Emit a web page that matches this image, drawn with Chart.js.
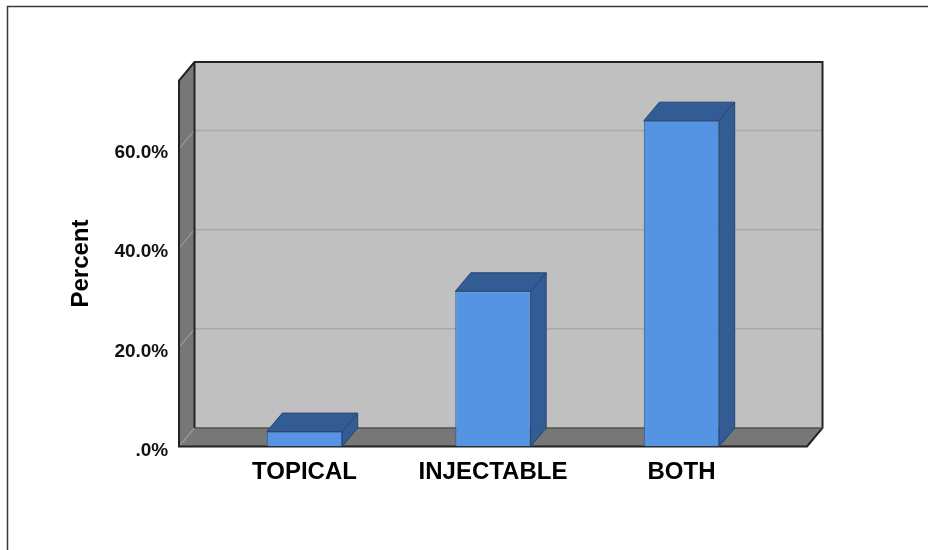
<!DOCTYPE html>
<html>
<head>
<meta charset="utf-8">
<title>Percent by type</title>
<script src="https://cdn.jsdelivr.net/npm/chart.js@4/dist/chart.umd.min.js"></script>
<style>
  html, body { margin: 0; padding: 0; background: #fff; }
  canvas { display: block; }
</style>
</head>
<body>
<canvas id="chart" width="928" height="550"></canvas>
<script>
// Categories and their share of cases (percent)
const categories = ['TOPICAL', 'INJECTABLE', 'BOTH'];
const percents = [3.0, 31.3, 65.7];

// Value axis ticks and their printed labels
const yTicks = [0, 20, 40, 60];
const yTickLabels = ['.0%', '20.0%', '40.0%', '60.0%'];
const yMax = 73.8;

// Depth of the 3D box, and how far the box reaches past the outer categories
const DX = 15.5;
const DY = 18.5;
const SIDE = 31.25;

const FONT = '"Liberation Sans", Arial, Helvetica, sans-serif';

const line = (ctx, x1, y1, x2, y2) => {
  ctx.beginPath();
  ctx.moveTo(x1, y1);
  ctx.lineTo(x2, y2);
  ctx.stroke();
};

const poly = (ctx, pts) => {
  ctx.beginPath();
  ctx.moveTo(pts[0][0], pts[0][1]);
  for (let i = 1; i < pts.length; i++) ctx.lineTo(pts[i][0], pts[i][1]);
  ctx.closePath();
};

// Walls, floor, frame and gridlines of the 3D box
const scene3d = {
  id: 'scene3d',
  beforeDraw(chart) {
    const ctx = chart.ctx;
    const { left, right, top, bottom } = chart.chartArea;
    const ys = chart.scales.y;
    const fl = left - SIDE;
    const fr = right + SIDE;
    ctx.save();
    ctx.fillStyle = '#ffffff';
    ctx.fillRect(0, 0, chart.width, chart.height);

    // outer frame
    ctx.strokeStyle = '#3a3a3a';
    ctx.lineWidth = 1.5;
    ctx.strokeRect(7.5, 6.5, chart.width + 20, chart.height + 20);

    // back wall
    ctx.fillStyle = '#c0c0c0';
    ctx.fillRect(fl + DX, top - DY, fr - fl, bottom - top);
    ctx.strokeStyle = '#a9a9a9';
    ctx.lineWidth = 1.5;
    yTicks.forEach(v => {
      const py = ys.getPixelForValue(v) - DY;
      line(ctx, fl + DX, py, fr + DX, py);
    });

    // left wall
    ctx.fillStyle = '#777777';
    poly(ctx, [[fl, top], [fl + DX, top - DY], [fl + DX, bottom - DY], [fl, bottom]]);
    ctx.fill();
    // floor
    poly(ctx, [[fl, bottom], [fl + DX, bottom - DY], [fr + DX, bottom - DY], [fr, bottom]]);
    ctx.fill();

    // gridlines carried across the left wall
    ctx.strokeStyle = '#a8a8a8';
    ctx.lineWidth = 1;
    yTicks.forEach(v => {
      const py = ys.getPixelForValue(v);
      line(ctx, fl, py, fl + DX, py - DY);
    });

    // edges
    ctx.strokeStyle = '#222222';
    ctx.lineWidth = 2;
    ctx.lineJoin = 'miter';
    ctx.beginPath();
    ctx.moveTo(fl, bottom);
    ctx.lineTo(fl, top);
    ctx.lineTo(fl + DX, top - DY);
    ctx.lineTo(fr + DX, top - DY);
    ctx.lineTo(fr + DX, bottom - DY);
    ctx.lineTo(fr, bottom);
    ctx.closePath();
    ctx.stroke();
    line(ctx, fl + DX, top - DY, fl + DX, bottom - DY);
    ctx.strokeStyle = '#555555';
    ctx.lineWidth = 1.5;
    line(ctx, fl + DX, bottom - DY, fr + DX, bottom - DY);
    ctx.restore();
  },
  afterDatasetsDraw(chart) {
    const ctx = chart.ctx;
    const meta = chart.getDatasetMeta(0);
    ctx.save();
    ctx.fillStyle = '#345c94';
    ctx.strokeStyle = '#264673';
    ctx.lineWidth = 1;
    meta.data.forEach(bar => {
      const { x, y, width, base } = bar.getProps(['x', 'y', 'width', 'base'], true);
      const x1 = x - width / 2;
      const x2 = x + width / 2;
      // top face
      poly(ctx, [[x1, y], [x2, y], [x2 + DX, y - DY], [x1 + DX, y - DY]]);
      ctx.fill();
      ctx.stroke();
      // side face
      poly(ctx, [[x2, y], [x2 + DX, y - DY], [x2 + DX, base - DY], [x2, base]]);
      ctx.fill();
      ctx.stroke();
    });
    ctx.restore();
  }
};

new Chart(document.getElementById('chart'), {
  type: 'bar',
  data: {
    labels: categories,
    datasets: [{
      data: percents,
      backgroundColor: '#5494e3',
      borderColor: '#2f5a92',
      borderWidth: 1,
      barPercentage: 0.4,
      categoryPercentage: 1
    }]
  },
  options: {
    responsive: false,
    animation: false,
    events: [],
    layout: { padding: { left: 0, right: 152.25, top: 80.5, bottom: 0 } },
    plugins: {
      legend: { display: false },
      tooltip: { enabled: false },
      title: { display: false }
    },
    scales: {
      x: {
        grid: { display: false, drawTicks: false },
        border: { display: false },
        ticks: {
          color: '#000',
          padding: 11,
          font: { family: FONT, size: 24, weight: 'bold' }
        },
        afterFit(scale) { scale.height = 103.5; }
      },
      y: {
        min: 0,
        max: yMax,
        grid: { display: false, drawTicks: false },
        border: { display: false },
        afterBuildTicks(scale) { scale.ticks = yTicks.map(v => ({ value: v })); },
        ticks: {
          color: '#111',
          padding: 42,
          labelOffset: 4,
          font: { family: FONT, size: 19, weight: 'bold' },
          callback(value) {
            const i = yTicks.indexOf(value);
            return i >= 0 ? yTickLabels[i] : '';
          }
        },
        title: {
          display: true,
          text: 'Percent',
          color: '#000',
          padding: { top: 67, bottom: 0 },
          font: { family: FONT, size: 24, weight: 'bold' }
        },
        afterFit(scale) { scale.width = 210.25; }
      }
    }
  },
  plugins: [scene3d]
});
</script>
</body>
</html>
